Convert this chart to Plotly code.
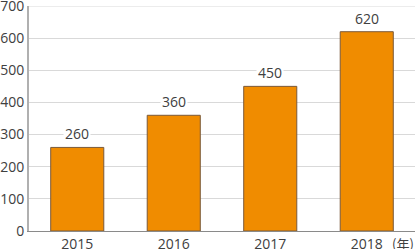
import plotly.graph_objects as go

years = ["2015", "2016", "2017", "2018"]
values = [260, 360, 450, 620]
y_ticks = [0, 100, 200, 300, 400, 500, 600, 700]
unit_label = "(年)"

font_family = "Open Sans, Noto Sans CJK JP, sans-serif"
text_color = "#404040"

fig = go.Figure()
fig.add_trace(go.Bar(
    x=years, y=values, width=0.55,
    marker=dict(color="#F08C00", line=dict(color="#7a5a3a", width=1)),
))
for i, v in enumerate(values):
    fig.add_annotation(
        x=i, y=v, xref="x", yref="y", text=str(v), showarrow=False,
        yanchor="bottom", yshift=2, bgcolor="white", borderpad=1,
        font=dict(size=14, color=text_color, family=font_family),
    )
fig.update_layout(
    width=415, height=249,
    margin=dict(l=29, r=0, t=6, b=18),
    paper_bgcolor="white", plot_bgcolor="white",
    showlegend=False,
    font=dict(family=font_family, size=14, color=text_color),
    bargap=0.45,
)
fig.update_yaxes(
    range=[0, 700], tickvals=y_ticks, showgrid=True, gridcolor="#d9d9d9", gridwidth=1,
    showline=True, linecolor="#b0b0b0", linewidth=2, ticks="", ticklen=0,
    tickfont=dict(size=14, color=text_color), zeroline=False, automargin=False,
    ticklabeloverflow="allow",
)
fig.update_xaxes(
    type="category", range=[-0.5, len(years) - 0.5],
    showline=True, linecolor="#8a8a8a", linewidth=1, ticks="",
    tickfont=dict(size=14, color=text_color), automargin=False,
    ticklabeloverflow="allow",
)
fig.add_shape(
    type="line", xref="paper", x0=0, x1=1, yref="y", y0=y_ticks[-1], y1=y_ticks[-1],
    line=dict(color="#d9d9d9", width=1), layer="below",
)
fig.add_annotation(
    x=0.935, y=0, xref="paper", yref="paper", xanchor="left", yanchor="top",
    text=unit_label, showarrow=False, yshift=-1,
    font=dict(size=13, color=text_color, family="Noto Sans CJK JP, sans-serif"),
)
fig.write_html("out.html")
